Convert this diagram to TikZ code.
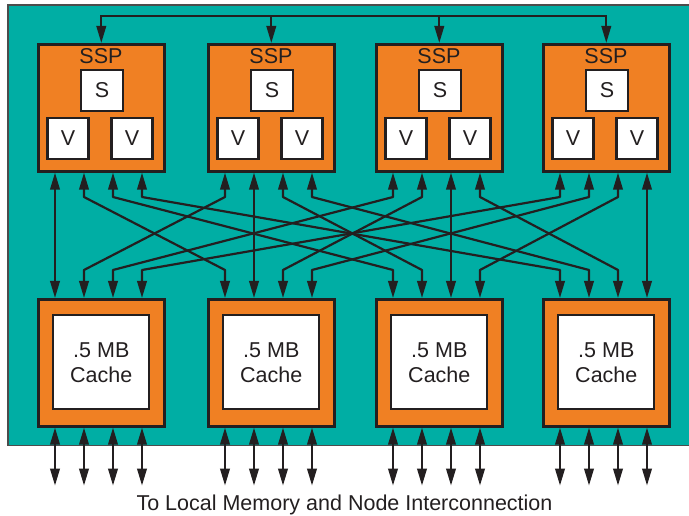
\documentclass[tikz,border=0pt]{standalone}
\usepackage{fontspec}
\setmainfont{Liberation Sans}
\usetikzlibrary{arrows.meta,calc}
\definecolor{chipteal}{RGB}{0,174,164}
\definecolor{procorange}{RGB}{240,128,35}
\definecolor{ink}{RGB}{35,31,32}
\tikzset{
  >={Triangle[length=17pt,width=9.5pt]},
  wire/.style={draw=ink, line width=2.2pt, line join=round},
  unit/.style={draw=ink, fill=procorange, line width=2.6pt,
    minimum width=126pt, minimum height=127pt, anchor=north west, inner sep=0pt},
  cell/.style={draw=ink, fill=white, line width=2.2pt, inner sep=0pt,
    text=ink, font=\fontsize{21.5}{25}\selectfont},
  txt/.style={inner sep=0pt, text=ink, font=\fontsize{21.5}{25}\selectfont},
}
\begin{document}
\begin{tikzpicture}[x=1pt,y=-1pt]
\useasboundingbox (0,0) rectangle (689,516);

% chip substrate
\fill[chipteal] (8,5) rectangle (689,445.5);
\draw[black!70, line width=1.5pt] (689,5) -- (8,5) -- (8,445.5) -- (689,445.5);

% processors, caches and their ports
\foreach \i/\x in {1/37,2/207,3/375,4/542} {
  \node[unit] (ssp\i) at (\x,43) {};
  \node[txt] (sspname\i) at ($(ssp\i.north west)+(64,13)$) {SSP};
  \node[cell, minimum width=42pt, minimum height=41pt] (scal\i) at ($(ssp\i.north west)+(65,47.5)$) {S};
  \node[cell, minimum size=41pt] (vecA\i) at ($(ssp\i.north west)+(31,95.5)$) {V};
  \node[cell, minimum size=41pt] (vecB\i) at ($(ssp\i.north west)+(95,95.5)$) {V};
  \node[unit] (cache\i) at (\x,298) {};
  \node[cell, minimum width=96pt, minimum height=94pt, align=center] (mem\i)
    at ($(cache\i.center)+(0,-0.5)$) {.5 MB\\Cache};
  \foreach \j/\d in {1/18,2/47,3/76,4/105} {
    \coordinate (sp\i\j) at ($(ssp\i.south west)+(\d,0)$);
    \coordinate (cp\i\j) at ($(cache\i.north west)+(\d,0)$);
    \coordinate (cb\i\j) at ($(cache\i.south west)+(\d,0)$);
    \coordinate (ext\i\j) at ($(cb\i\j)+(0,58)$);
  }
  \coordinate (bus\i) at ($(ssp\i.north)+(0,-27.3)$);
}

% bend levels of the crossbar
\coordinate (upper) at (0,197);
\coordinate (lower) at (0,270);

% synchronisation bus across the top
\draw[wire, line cap=rect] (bus1) -- (bus4);
\foreach \i in {1,...,4} \draw[wire,->] (bus\i) -- (ssp\i.north);

% crossbar: port j of processor i to port i of cache j
\foreach \i in {1,...,4} {
  \foreach \j in {1,...,4} {
    \ifnum\i=\j
      \draw[wire,<->] (sp\i\j) -- (cp\j\i);
    \else
      \draw[wire,<->] (sp\i\j) -- (sp\i\j |- upper) -- (cp\j\i |- lower) -- (cp\j\i);
    \fi
  }
}

% external links
\foreach \i in {1,...,4} \foreach \j in {1,...,4} \draw[wire,<->] (cb\i\j) -- (ext\i\j);

\node[txt, anchor=base] (caption) at (344.5,510.5) {To Local Memory and Node Interconnection};
\end{tikzpicture}
\end{document}
